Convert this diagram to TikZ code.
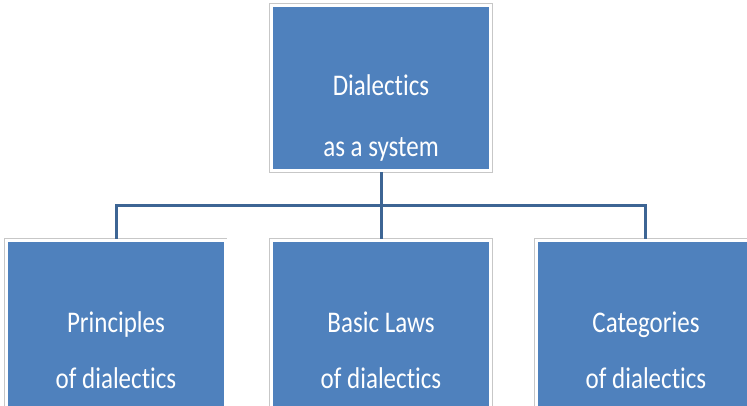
\documentclass[tikz,border=0pt]{standalone}
\usepackage{fontspec}
\setmainfont[Ligatures=NoCommon]{Carlito}
\usepackage{graphicx}
\definecolor{boxblue}{HTML}{4F81BD}
\definecolor{linkblue}{HTML}{3D6594}
\begin{document}
\begin{tikzpicture}[x=1pt,y=-1pt,
  box/.style={draw=white, line width=3pt, fill=boxblue, inner sep=0pt,
    preaction={draw=black!22, line width=4.6pt}},
  lbl/.style={text=white, font=\fontsize{25}{30}\selectfont, anchor=base, inner sep=0pt},
  link/.style={draw=linkblue, line width=3pt, line join=miter}]
\useasboundingbox (0,0) rectangle (747,405);
\clip (0,0) rectangle (747,405);
% boxes
\node[box, minimum width=219pt, minimum height=165pt] (top) at (381,88) {};
\node[box, minimum width=219pt, minimum height=180pt] (left) at (115.5,330) {};
\node[box, minimum width=219pt, minimum height=180pt] (mid) at (381,330) {};
\node[box, minimum width=219pt, minimum height=180pt] (right) at (645.5,330) {};
% connectors
\coordinate (j) at (381,205);
\draw[link] (top.south) -- (mid.north);
\draw[link] ([xshift=0.5pt]left.north) -- ([xshift=0.5pt]left.north |- j) -- (right.north |- j) -- (right.north);
% labels
\node[lbl] (t1a) at (381,95) {\scalebox{1}[1.2]{Dialectics}};
\node[lbl] (t1b) at (381,156) {\scalebox{1}[1.2]{as a system}};
\node[lbl] (t2a) at (116,332) {\scalebox{1}[1.2]{Principles}};
\node[lbl] (t2b) at (116,388) {\scalebox{1}[1.2]{of dialectics}};
\node[lbl] (t3a) at (381,332) {\scalebox{1}[1.2]{Basic Laws}};
\node[lbl] (t3b) at (381,388) {\scalebox{1}[1.2]{of dialectics}};
\node[lbl] (t4a) at (646,332) {\scalebox{1}[1.2]{Categories}};
\node[lbl] (t4b) at (646,388) {\scalebox{1}[1.2]{of dialectics}};
\end{tikzpicture}
\end{document}
